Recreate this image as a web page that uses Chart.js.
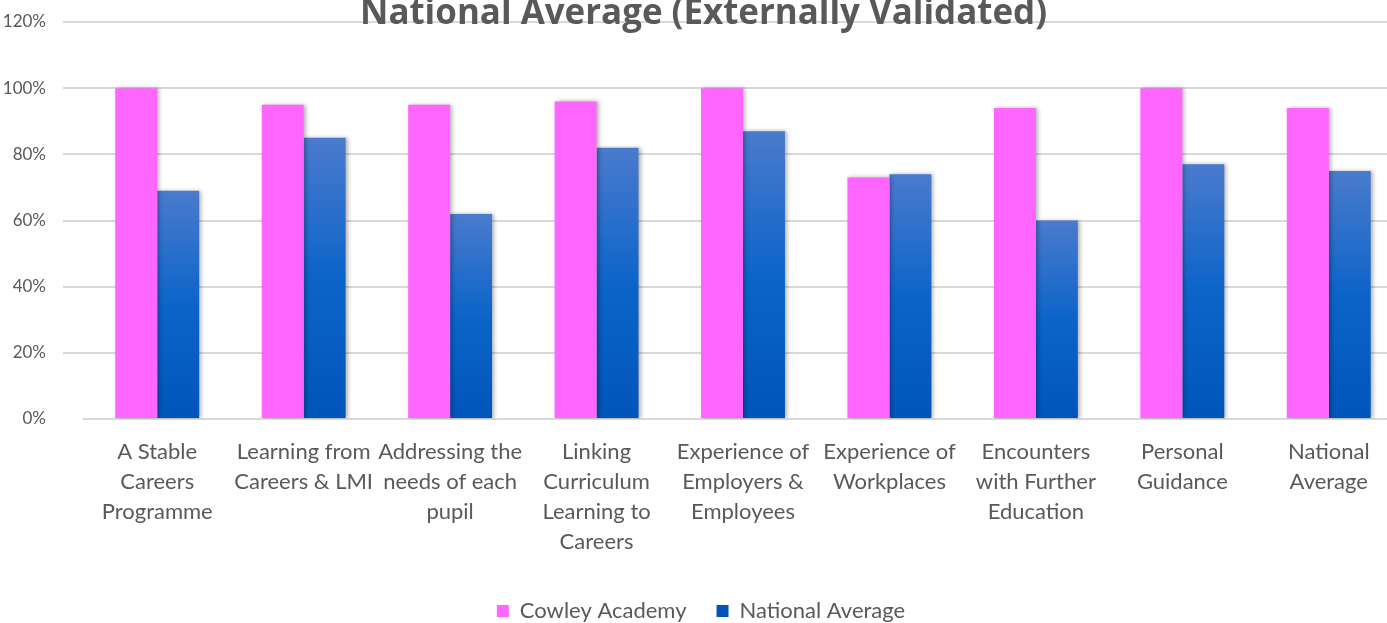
<!DOCTYPE html>
<html>
<head>
<meta charset="utf-8">
<script src="https://cdn.jsdelivr.net/npm/chart.js@4"></script>
<style>
  html, body { margin: 0; padding: 0; background: #fff; overflow: hidden; }
  #wrap { position: relative; width: 1402px; height: 623px; }
</style>
</head>
<body>
<div id="wrap"><canvas id="chartCareers"></canvas></div>
<script>
const categories = [
  ['A Stable', 'Careers', 'Programme'],
  ['Learning from', 'Careers & LMI'],
  ['Addressing the', 'needs of each', 'pupil'],
  ['Linking', 'Curriculum', 'Learning to', 'Careers'],
  ['Experience of', 'Employers &', 'Employees'],
  ['Experience of', 'Workplaces'],
  ['Encounters', 'with Further', 'Education'],
  ['Personal', 'Guidance'],
  ['National', 'Average']
];
const cowleyAcademy = [100, 95, 95, 96, 100, 73, 94, 100, 94];
const nationalAverage = [69, 85, 62, 82, 87, 74, 60, 77, 75];
const yTicks = [0, 20, 40, 60, 80, 100, 120];

const TEXT = '#595959';
const GRID = '#d9d9d9';
const LEGEND_DROP = 9; // push the legend a little below its normal spot

function blueFill(c) {
  const chart = c.chart;
  const y = chart.scales && chart.scales.y;
  if (c.type !== 'data' || !y || !chart.chartArea) return '#0b5fc6';
  const top = y.getPixelForValue(c.raw);
  const base = y.getPixelForValue(0);
  const g = chart.ctx.createLinearGradient(0, top, 0, base);
  g.addColorStop(0, '#4a7bcd');
  g.addColorStop(0.5, '#0c64c9');
  g.addColorStop(1, '#0055ba');
  return g;
}

// soft shadow to the right of each bar
const barShadow = {
  id: 'barShadow',
  beforeDatasetsDraw(chart) {
    const ctx = chart.ctx;
    ctx.save();
    ctx.shadowColor = 'rgba(0,0,0,0.3)';
    ctx.shadowBlur = 4;
    ctx.shadowOffsetX = 2;
    ctx.shadowOffsetY = 0;
  },
  afterDatasetsDraw(chart) {
    chart.ctx.restore();
  }
};

// title sits over the top gridline and is clipped by the page top
const topTitle = {
  id: 'topTitle',
  afterDraw(chart) {
    const ctx = chart.ctx;
    const text = 'National Average (Externally Validated)';
    ctx.save();
    ctx.font = 'bold 35px "Open Sans"';
    ctx.fillStyle = TEXT;
    ctx.textAlign = 'center';
    ctx.textBaseline = 'alphabetic';
    const w = ctx.measureText(text).width;
    ctx.translate(703.5, 24);
    ctx.scale(687 / w, 1);
    ctx.fillText(text, 0, 0);
    ctx.restore();
  }
};

new Chart(document.getElementById('chartCareers'), {
  type: 'bar',
  data: {
    labels: categories,
    datasets: [
      {
        label: 'Cowley Academy',
        data: cowleyAcademy,
        backgroundColor: '#ff66ff',
        categoryPercentage: 0.573,
        barPercentage: 1
      },
      {
        label: 'National Average',
        data: nationalAverage,
        backgroundColor: blueFill,
        categoryPercentage: 0.573,
        barPercentage: 1
      }
    ]
  },
  options: {
    responsive: true,
    maintainAspectRatio: false,
    animation: false,
    layout: {
      autoPadding: false,
      padding: { top: 22, left: 0, right: 0, bottom: -LEGEND_DROP }
    },
    plugins: {
      title: { display: false },
      tooltip: { enabled: false },
      legend: {
        position: 'bottom',
        labels: {
          color: TEXT,
          font: { family: 'Lato', size: 22 },
          boxWidth: 12,
          boxHeight: 12,
          padding: 30
        }
      }
    },
    scales: {
      x: {
        afterFit(scale) {
          const lg = scale.chart.legend;
          scale.height = scale.chart.height + LEGEND_DROP - (lg ? lg.height : 0) - 419;
          scale.paddingLeft = 0;
          scale.paddingRight = 0;
        },
        grid: { display: false },
        border: { color: GRID, width: 2 },
        ticks: {
          color: TEXT,
          font: { family: 'Lato', size: 22, lineHeight: 30 / 22 },
          maxRotation: 0,
          autoSkip: false,
          padding: 10
        }
      },
      y: {
        min: 0,
        max: 120,
        afterFit(scale) {
          scale.width = 84;
          scale.paddingTop = 0;
          scale.paddingBottom = 0;
        },
        afterBuildTicks(scale) { scale.ticks = yTicks.map(v => ({ value: v })); },
        grid: {
          color: GRID,
          lineWidth: 2,
          tickLength: 21,
          tickColor: c => (c.tick && c.tick.value === 0 ? 'rgba(0,0,0,0)' : GRID)
        },
        border: { display: false },
        ticks: {
          color: TEXT,
          font: { family: 'Lato', size: 17 },
          padding: 17,
          callback: v => v + '%'
        }
      }
    }
  },
  plugins: [barShadow, topTitle]
});
</script>
</body>
</html>
